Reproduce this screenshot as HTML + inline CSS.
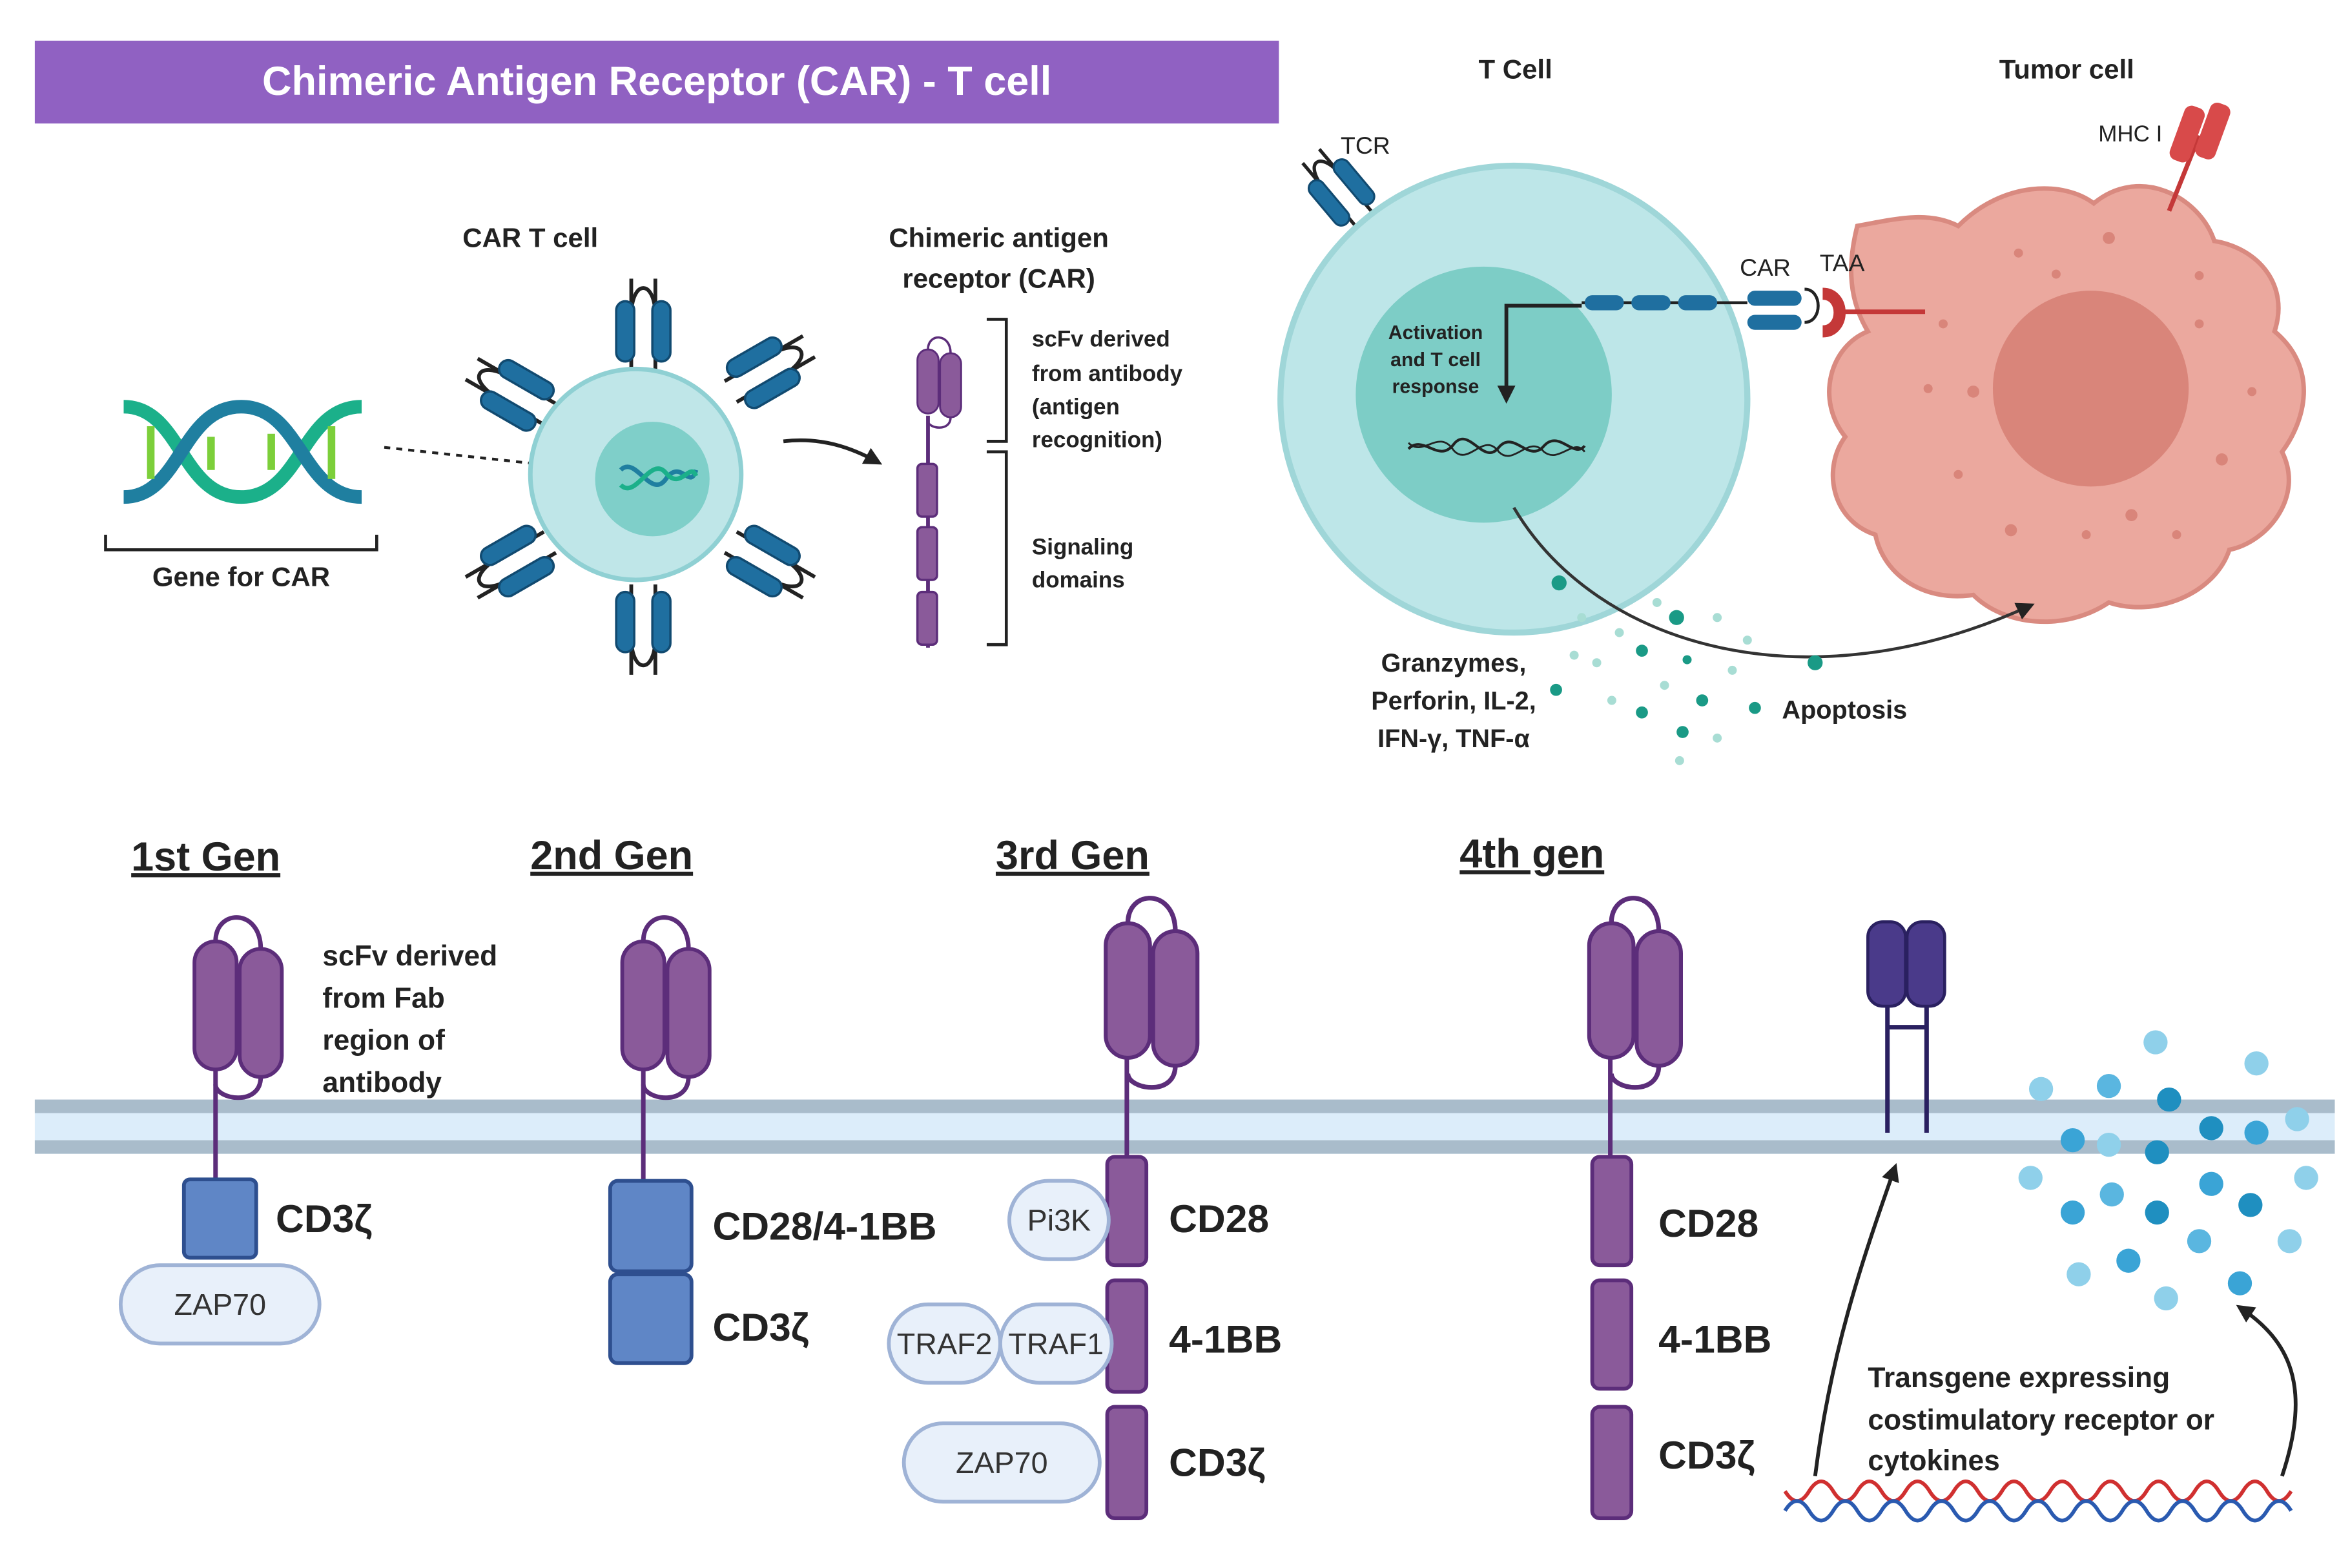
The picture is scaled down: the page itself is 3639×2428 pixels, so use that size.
<!DOCTYPE html>
<html><head><meta charset="utf-8"><style>
html,body{margin:0;padding:0;background:#fff;}
svg{display:block;}
text{font-family:"Liberation Sans",Arial,sans-serif;}
</style></head><body>
<svg width="3639" height="2428" viewBox="0 0 1560 1041" xmlns="http://www.w3.org/2000/svg">
<defs>
<marker id="ah" markerWidth="8" markerHeight="8" refX="6" refY="4" orient="auto" markerUnits="userSpaceOnUse"><path d="M0,0 L8,4 L0,8 z" fill="#222"/></marker>
<marker id="ahs" markerWidth="12" markerHeight="12" refX="9" refY="6" orient="auto" markerUnits="userSpaceOnUse"><path d="M0,0 L12,6 L0,12 z" fill="#222"/></marker>
<g id="scfv">
<path d="M14,0 C14,-22 44,-22 44,5 M44,90 C44,110 14,105 14,95" fill="none" stroke="#5c2d7a" stroke-width="3"/>
<rect x="0" y="0" width="28" height="85" rx="14" fill="#8a5a9a" stroke="#5c2d7a" stroke-width="2.5"/>
<rect x="30" y="5" width="28" height="85" rx="14" fill="#8a5a9a" stroke="#5c2d7a" stroke-width="2.5"/>
</g>
<g id="rcp">
<path d="M-8,0 L-8,-60 M8,0 L8,-60" stroke="#222" stroke-width="2.5" fill="none"/>
<path d="M-8,-35 C-8,-60 8,-60 8,-35" fill="none" stroke="#222" stroke-width="2.5"/>
<rect x="-18" y="-45" width="12" height="40" rx="6" fill="#1f6fa0" stroke="#114a70" stroke-width="1.5"/>
<rect x="6" y="-45" width="12" height="40" rx="6" fill="#1f6fa0" stroke="#114a70" stroke-width="1.5"/>
</g>
</defs>

<!-- header -->
<rect x="23" y="27" width="826" height="55" fill="#9061c2"/>
<text x="436" y="63" font-size="27" font-weight="bold" fill="#fff" text-anchor="middle">Chimeric Antigen Receptor (CAR) - T cell</text>

<!-- DNA -->
<g fill="none" stroke-width="9">
<path d="M82,270 C120,270 120,330 160,330 C200,330 200,270 240,270" stroke="#1bb08a"/>
<path d="M82,330 C120,330 120,270 160,270 C200,270 200,330 240,330" stroke="#1f7fa0"/>
</g>
<g stroke="#7ccf3a" stroke-width="5">
<line x1="100" y1="283" x2="100" y2="318"/><line x1="140" y1="290" x2="140" y2="312"/><line x1="180" y1="288" x2="180" y2="312"/><line x1="220" y1="283" x2="220" y2="318"/>
</g>
<path d="M70,355 V365 H250 V355" fill="none" stroke="#222" stroke-width="2"/>
<text x="160" y="389" font-size="18" font-weight="bold" text-anchor="middle" fill="#222">Gene for CAR</text>
<line x1="255" y1="297" x2="403" y2="313" stroke="#222" stroke-width="1.8" stroke-dasharray="4,4" marker-end="url(#ah)"/>

<!-- CAR T cell -->
<text x="352" y="164" font-size="18" font-weight="bold" text-anchor="middle" fill="#222">CAR T cell</text>
<g transform="translate(427,245)"><use href="#rcp"/></g>
<g transform="translate(427,388) rotate(180)"><use href="#rcp"/></g>
<g transform="translate(365,275) rotate(-60)"><use href="#rcp"/></g>
<g transform="translate(485,260) rotate(60)"><use href="#rcp"/></g>
<g transform="translate(365,360) rotate(-120)"><use href="#rcp"/></g>
<g transform="translate(485,360) rotate(120)"><use href="#rcp"/></g>
<circle cx="422" cy="315" r="70" fill="#bfe6e8" stroke="#8fd0d3" stroke-width="3"/>
<circle cx="433" cy="318" r="38" fill="#7fcfc9"/>
<path d="M412,312 C422,302 432,332 442,318 C452,304 458,326 462,312" fill="none" stroke="#1f7fa0" stroke-width="3"/>
<path d="M412,322 C422,332 432,302 442,314 C452,326 458,306 462,316" fill="none" stroke="#1bb08a" stroke-width="3"/>
<path d="M520,293 C545,290 565,297 583,307" fill="none" stroke="#222" stroke-width="2.5" marker-end="url(#ahs)"/>

<!-- CAR diagram -->
<text x="663" y="164" font-size="18" font-weight="bold" text-anchor="middle" fill="#222">Chimeric antigen</text>
<text x="663" y="191" font-size="18" font-weight="bold" text-anchor="middle" fill="#222">receptor (CAR)</text>
<g transform="translate(609,232) scale(0.5,0.5)"><use href="#scfv"/></g>
<line x1="616" y1="276" x2="616" y2="430" stroke="#5c2d7a" stroke-width="2.5"/>
<rect x="609" y="308" width="13" height="35" rx="3" fill="#8a5a9a" stroke="#5c2d7a" stroke-width="1.5"/>
<rect x="609" y="350" width="13" height="35" rx="3" fill="#8a5a9a" stroke="#5c2d7a" stroke-width="1.5"/>
<rect x="609" y="393" width="13" height="35" rx="3" fill="#8a5a9a" stroke="#5c2d7a" stroke-width="1.5"/>
<path d="M655,212 H668 V293 H655 M655,300 H668 V428 H655" fill="none" stroke="#222" stroke-width="2"/>
<g font-size="15" font-weight="bold" fill="#222">
<text x="685" y="230">scFv derived</text><text x="685" y="253">from antibody</text><text x="685" y="275">(antigen</text><text x="685" y="297">recognition)</text>
<text x="685" y="368">Signaling</text><text x="685" y="390">domains</text>
</g>

<!-- T cell and tumor -->
<text x="1006" y="52" font-size="18" font-weight="bold" text-anchor="middle" fill="#222">T Cell</text>
<text x="1372" y="52" font-size="18" font-weight="bold" text-anchor="middle" fill="#222">Tumor cell</text>
<g transform="translate(905,145) rotate(-40)"><use href="#rcp" transform="scale(0.9)"/></g>
<text x="890" y="102" font-size="16" fill="#222">TCR</text>
<circle cx="1005" cy="265" r="155" fill="#bde6e8" stroke="#9fd6d8" stroke-width="4"/>
<circle cx="985" cy="262" r="85" fill="#7dcdc6"/>
<path d="M1233,150 C1260,145 1280,140 1300,150 C1330,120 1370,120 1390,135 C1420,110 1460,130 1470,160 C1500,165 1520,190 1510,220 C1540,245 1530,280 1515,300 C1530,330 1505,360 1480,365 C1470,395 1430,410 1400,400 C1370,420 1330,415 1310,395 C1275,400 1250,380 1245,355 C1215,345 1210,310 1225,290 C1205,265 1215,230 1240,220 C1225,195 1228,170 1233,150 z" fill="#eba89e" stroke="#d98a80" stroke-width="3"/>
<circle cx="1388" cy="258" r="65" fill="#d9857a"/>
<g fill="#d9857a">
<circle cx="1340" cy="168" r="3"/><circle cx="1400" cy="158" r="4"/><circle cx="1365" cy="182" r="3"/><circle cx="1460" cy="183" r="3"/><circle cx="1290" cy="215" r="3"/><circle cx="1310" cy="260" r="4"/><circle cx="1280" cy="258" r="3"/><circle cx="1475" cy="305" r="4"/><circle cx="1495" cy="260" r="3"/><circle cx="1335" cy="352" r="4"/><circle cx="1415" cy="342" r="4"/><circle cx="1385" cy="355" r="3"/><circle cx="1445" cy="355" r="3"/><circle cx="1300" cy="315" r="3"/><circle cx="1460" cy="215" r="3"/>
</g>
<line x1="1440" y1="140" x2="1460" y2="90" stroke="#c43838" stroke-width="3"/>
<rect x="1445" y="70" width="14" height="38" rx="5" fill="#d84a4a" transform="rotate(20 1452 89)"/>
<rect x="1462" y="68" width="14" height="38" rx="5" fill="#d84a4a" transform="rotate(20 1469 87)"/>
<text x="1393" y="94" font-size="15" fill="#222">MHC I</text>
<line x1="1050" y1="201" x2="1160" y2="201" stroke="#222" stroke-width="2"/>
<g fill="#1f6fa0"><rect x="1052" y="196" width="26" height="10" rx="5"/><rect x="1083" y="196" width="26" height="10" rx="5"/><rect x="1114" y="196" width="26" height="10" rx="5"/><rect x="1160" y="193" width="36" height="10" rx="5"/><rect x="1160" y="209" width="36" height="10" rx="5"/></g>
<path d="M1198,192 C1210,192 1210,214 1198,214" fill="none" stroke="#222" stroke-width="2"/>
<path d="M1210,195 C1225,195 1225,220 1210,220" fill="none" stroke="#c43838" stroke-width="8"/>
<line x1="1222" y1="207" x2="1278" y2="207" stroke="#c43838" stroke-width="3"/>
<text x="1155" y="183" font-size="16" fill="#222">CAR</text>
<text x="1208" y="180" font-size="16" fill="#222">TAA</text>
<path d="M1050,203 H1000 V265" fill="none" stroke="#222" stroke-width="2.5" marker-end="url(#ahs)"/>
<g font-size="13" font-weight="bold" fill="#222" text-anchor="middle"><text x="953" y="225">Activation</text><text x="953" y="243">and T cell</text><text x="953" y="261">response</text></g>
<path d="M935,298 C945,288 955,308 965,295 C975,282 985,310 995,297 C1005,285 1015,308 1025,296 C1035,285 1045,305 1052,296" fill="none" stroke="#222" stroke-width="1.8"/>
<path d="M935,294 C945,304 955,284 965,299 C975,310 985,286 995,300 C1005,310 1015,288 1025,300 C1035,308 1045,290 1052,300" fill="none" stroke="#222" stroke-width="1.2"/>
<path d="M1005,337 C1060,430 1200,470 1348,402" fill="none" stroke="#333" stroke-width="2" marker-end="url(#ahs)"/>
<g fill="#1a9a86">
<circle cx="1035" cy="387" r="5"/><circle cx="1113" cy="410" r="5"/><circle cx="1090" cy="432" r="4"/><circle cx="1130" cy="465" r="4"/><circle cx="1090" cy="473" r="4"/><circle cx="1205" cy="440" r="5"/><circle cx="1165" cy="470" r="4"/><circle cx="1117" cy="486" r="4"/><circle cx="1033" cy="458" r="4"/><circle cx="1120" cy="438" r="3"/>
</g>
<g fill="#a8ddd4">
<circle cx="1050" cy="410" r="3"/><circle cx="1075" cy="420" r="3"/><circle cx="1060" cy="440" r="3"/><circle cx="1100" cy="400" r="3"/><circle cx="1140" cy="410" r="3"/><circle cx="1150" cy="445" r="3"/><circle cx="1070" cy="465" r="3"/><circle cx="1105" cy="455" r="3"/><circle cx="1140" cy="490" r="3"/><circle cx="1115" cy="505" r="3"/><circle cx="1160" cy="425" r="3"/><circle cx="1045" cy="435" r="3"/>
</g>
<g font-size="17" font-weight="bold" fill="#222" text-anchor="middle"><text x="965" y="446">Granzymes,</text><text x="965" y="471">Perforin, IL-2,</text><text x="965" y="496">IFN-γ, TNF-α</text></g>
<text x="1183" y="477" font-size="17" font-weight="bold" fill="#222">Apoptosis</text>

<!-- membrane -->
<rect x="23" y="730" width="1527" height="36" fill="#dcedfa"/>
<rect x="23" y="730" width="1527" height="9" fill="#a9bccb"/>
<rect x="23" y="757" width="1527" height="9" fill="#a9bccb"/>

<!-- gen titles -->
<g font-size="27" font-weight="bold" fill="#222" text-decoration="underline">
<text x="87" y="578">1st Gen</text><text x="352" y="577">2nd Gen</text><text x="661" y="577">3rd Gen</text><text x="969" y="576">4th gen</text>
</g>

<!-- 1st gen -->
<line x1="143" y1="700" x2="143" y2="785" stroke="#5c2d7a" stroke-width="3"/>
<g transform="translate(129,625)"><use href="#scfv"/></g>
<g font-size="19" font-weight="bold" fill="#222"><text x="214" y="641">scFv derived</text><text x="214" y="669">from Fab</text><text x="214" y="697">region of</text><text x="214" y="725">antibody</text></g>
<rect x="122" y="783" width="48" height="52" rx="4" fill="#5f86c6" stroke="#2e4f8f" stroke-width="2.5"/>
<rect x="80" y="840" width="132" height="52" rx="26" fill="#e8f0fa" stroke="#9fb3d6" stroke-width="2.5"/>
<text x="146" y="873" font-size="20" fill="#333" text-anchor="middle">ZAP70</text>
<text x="183" y="818" font-size="26" font-weight="bold" fill="#222">CD3ζ</text>

<!-- 2nd gen -->
<line x1="427" y1="700" x2="427" y2="785" stroke="#5c2d7a" stroke-width="3"/>
<g transform="translate(413,625)"><use href="#scfv"/></g>
<rect x="405" y="784" width="54" height="60" rx="5" fill="#5f86c6" stroke="#2e4f8f" stroke-width="2.5"/>
<rect x="405" y="846" width="54" height="59" rx="5" fill="#5f86c6" stroke="#2e4f8f" stroke-width="2.5"/>
<text x="473" y="823" font-size="26" font-weight="bold" fill="#222">CD28/4-1BB</text>
<text x="473" y="890" font-size="26" font-weight="bold" fill="#222">CD3ζ</text>

<!-- 3rd gen -->
<line x1="748" y1="700" x2="748" y2="770" stroke="#5c2d7a" stroke-width="3"/>
<g transform="translate(734,613)"><use href="#scfv" transform="scale(1.05)"/></g>
<g fill="#8a5a9a" stroke="#5c2d7a" stroke-width="2.5">
<rect x="735" y="768" width="26" height="72" rx="5"/><rect x="735" y="850" width="26" height="74" rx="5"/><rect x="735" y="934" width="26" height="74" rx="5"/>
</g>
<g fill="#e8f0fa" stroke="#9fb3d6" stroke-width="2.5">
<rect x="670" y="784" width="66" height="52" rx="26"/><rect x="590" y="866" width="74" height="52" rx="26"/><rect x="664" y="866" width="74" height="52" rx="26"/><rect x="600" y="945" width="130" height="52" rx="26"/>
</g>
<g font-size="20" fill="#333" text-anchor="middle"><text x="703" y="817">Pi3K</text><text x="627" y="899">TRAF2</text><text x="701" y="899">TRAF1</text><text x="665" y="978">ZAP70</text></g>
<g font-size="26" font-weight="bold" fill="#222"><text x="776" y="818">CD28</text><text x="776" y="898">4-1BB</text><text x="776" y="980">CD3ζ</text></g>

<!-- 4th gen -->
<line x1="1069" y1="700" x2="1069" y2="770" stroke="#5c2d7a" stroke-width="3"/>
<g transform="translate(1055,613)"><use href="#scfv" transform="scale(1.05)"/></g>
<g fill="#8a5a9a" stroke="#5c2d7a" stroke-width="2.5">
<rect x="1057" y="768" width="26" height="72" rx="5"/><rect x="1057" y="850" width="26" height="72" rx="5"/><rect x="1057" y="934" width="26" height="74" rx="5"/>
</g>
<g font-size="26" font-weight="bold" fill="#222"><text x="1101" y="821">CD28</text><text x="1101" y="898">4-1BB</text><text x="1101" y="975">CD3ζ</text></g>
<g stroke="#2a2060" stroke-width="3"><line x1="1253" y1="665" x2="1253" y2="752"/><line x1="1279" y1="665" x2="1279" y2="752"/><line x1="1253" y1="682" x2="1279" y2="682"/></g>
<rect x="1240" y="612" width="25" height="56" rx="10" fill="#4a3a8a" stroke="#2a2060" stroke-width="2"/>
<rect x="1266" y="612" width="25" height="56" rx="10" fill="#4a3a8a" stroke="#2a2060" stroke-width="2"/>
<g>
<circle cx="1431" cy="692" r="8" fill="#8fd0ea"/><circle cx="1498" cy="706" r="8" fill="#8fd0ea"/><circle cx="1355" cy="723" r="8" fill="#8fd0ea"/><circle cx="1400" cy="721" r="8" fill="#5ab6e0"/><circle cx="1440" cy="730" r="8" fill="#1f8fc0"/><circle cx="1525" cy="743" r="8" fill="#8fd0ea"/>
<circle cx="1376" cy="757" r="8" fill="#3aa4d6"/><circle cx="1400" cy="760" r="8" fill="#8fd0ea"/><circle cx="1432" cy="765" r="8" fill="#1f8fc0"/><circle cx="1468" cy="749" r="8" fill="#1f8fc0"/><circle cx="1498" cy="752" r="8" fill="#3aa4d6"/>
<circle cx="1348" cy="782" r="8" fill="#8fd0ea"/><circle cx="1402" cy="793" r="8" fill="#5ab6e0"/><circle cx="1468" cy="786" r="8" fill="#3aa4d6"/><circle cx="1531" cy="782" r="8" fill="#8fd0ea"/>
<circle cx="1376" cy="805" r="8" fill="#3aa4d6"/><circle cx="1432" cy="805" r="8" fill="#1f8fc0"/><circle cx="1494" cy="800" r="8" fill="#1f8fc0"/><circle cx="1460" cy="824" r="8" fill="#5ab6e0"/><circle cx="1520" cy="824" r="8" fill="#8fd0ea"/>
<circle cx="1413" cy="837" r="8" fill="#3aa4d6"/><circle cx="1380" cy="846" r="8" fill="#8fd0ea"/><circle cx="1487" cy="852" r="8" fill="#3aa4d6"/><circle cx="1438" cy="862" r="8" fill="#8fd0ea"/>
</g>
<path d="M1185,990 Q1193,1003 1201,990 T1217,990 T1233,990 T1249,990 T1265,990 T1281,990 T1297,990 T1313,990 T1329,990 T1345,990 T1361,990 T1377,990 T1393,990 T1409,990 T1425,990 T1441,990 T1457,990 T1473,990 T1489,990 T1505,990 T1521,990" fill="none" stroke="#d03030" stroke-width="2.5"/>
<path d="M1185,1003 Q1193,990 1201,1003 T1217,1003 T1233,1003 T1249,1003 T1265,1003 T1281,1003 T1297,1003 T1313,1003 T1329,1003 T1345,1003 T1361,1003 T1377,1003 T1393,1003 T1409,1003 T1425,1003 T1441,1003 T1457,1003 T1473,1003 T1489,1003 T1505,1003 T1521,1003" fill="none" stroke="#2a5ab0" stroke-width="2.5"/>
<path d="M1205,980 C1215,900 1235,840 1258,775" fill="none" stroke="#222" stroke-width="2.5" marker-end="url(#ahs)"/>
<path d="M1515,980 C1535,920 1520,890 1487,868" fill="none" stroke="#222" stroke-width="2.5" marker-end="url(#ahs)"/>
<g font-size="19" font-weight="bold" fill="#222"><text x="1240" y="921">Transgene expressing</text><text x="1240" y="949">costimulatory receptor or</text><text x="1240" y="976">cytokines</text></g>
</svg>
</body></html>
